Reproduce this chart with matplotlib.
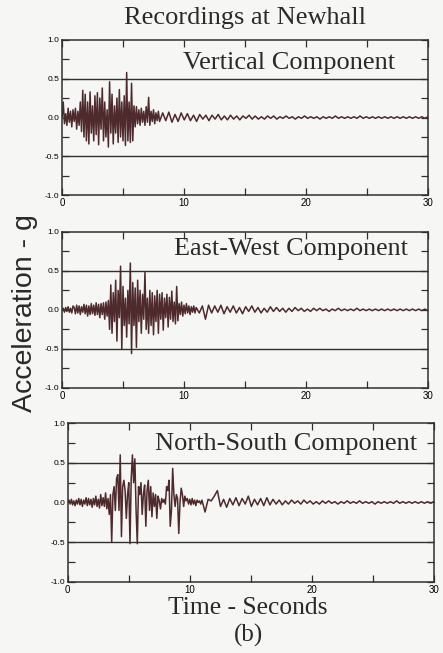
import matplotlib
matplotlib.use('Agg')
import matplotlib.pyplot as plt
import numpy as np

plt.rcParams['font.family'] = 'Liberation Serif'

# --- data (acceleration in g) ---
# strong-motion part sampled every 0.1 s, coda every 0.25 s
vert_strong = [
    0.0, 0.2, -0.08, 0.05, -0.1, 0.12, -0.06, 0.08, -0.12, 0.1,
    -0.05, 0.12, -0.15, 0.08, -0.1, 0.2, -0.18, 0.35, -0.25, 0.3,
    -0.3, 0.2, -0.34, 0.33, -0.2, 0.15, -0.3, 0.28, -0.22, 0.32,
    -0.35, 0.25, -0.15, 0.38, -0.3, 0.2, -0.25, 0.1, -0.38, 0.46,
    -0.2, 0.3, -0.34, 0.15, -0.2, 0.25, -0.32, 0.36, -0.25, 0.2,
    -0.3, 0.28, -0.36, 0.58, -0.3, 0.2, -0.32, 0.44, -0.3, 0.15,
    -0.12, 0.14, -0.08, 0.1, -0.1, 0.12, -0.06, 0.08, -0.1, 0.14,
    -0.06, 0.26, -0.1, 0.08, -0.05, 0.1, -0.08, 0.06, -0.04, 0.08,
]
vert_coda = [
    -0.05, 0.06, -0.04, 0.07, -0.06, 0.04, -0.05, 0.06, -0.03, 0.05,
    -0.04, 0.03, -0.05, 0.04, -0.02, 0.03, -0.04, 0.03, -0.02, 0.04,
    -0.03, 0.02, -0.03, 0.03, -0.02, 0.02, -0.03, 0.02, -0.01, 0.03,
    -0.02, 0.02, -0.02, 0.01, -0.02, 0.02, -0.01, 0.02, -0.02, 0.01,
    -0.01, 0.02, -0.01, 0.01, -0.02, 0.01, -0.01, 0.02, -0.01, 0.01,
    -0.01, 0.01, -0.02, 0.01, -0.01, 0.01, -0.01, 0.02, -0.01, 0.01,
    -0.01, 0.01, -0.01, 0.01, -0.01, 0.02, -0.01, 0.01, -0.01, 0.01,
    -0.01, 0.01, -0.01, 0.01, -0.01, 0.01, -0.01, 0.01, -0.01, 0.01,
    -0.01, 0.01, -0.01, 0.01, -0.01, 0.01, -0.01, 0.01,
]

ew_strong = [
    0.0, 0.02, -0.03, 0.03, -0.02, 0.04, -0.03, 0.02, -0.04, 0.05,
    0.03, -0.05, 0.06, -0.04, 0.05, -0.06, 0.04, -0.03, 0.07, -0.05,
    0.06, -0.08, 0.05, -0.06, 0.08, -0.05, 0.06, -0.07, 0.09, -0.06,
    0.07, -0.1, 0.08, -0.06, 0.09, -0.12, 0.1, -0.08, 0.12, -0.25,
    0.32, -0.3, 0.22, -0.15, 0.38, -0.4, 0.25, -0.1, 0.56, -0.5,
    0.3, -0.2, 0.15, -0.35, 0.25, -0.18, 0.6, -0.56, 0.35, -0.2,
    0.28, -0.48, 0.38, -0.15, 0.25, -0.3, 0.2, -0.12, 0.48, -0.25,
    0.15, -0.3, 0.25, -0.2, 0.22, -0.32, 0.18, -0.15, 0.25, -0.3,
    0.2, -0.12, 0.22, -0.26, 0.15, -0.1, 0.2, -0.22, 0.16, -0.12,
    0.24, -0.15, 0.1, -0.18, 0.3, -0.14, 0.08, -0.06, 0.1, -0.08,
    0.06, -0.05, 0.08, -0.04, 0.05, -0.06, 0.04, -0.03, 0.05, -0.04,
]
ew_coda = [
    0.03, -0.04, 0.05, -0.12, 0.06, -0.04, 0.05, -0.03, 0.06, -0.05,
    0.04, -0.03, 0.05, -0.04, 0.03, -0.05, 0.04, -0.02, 0.05, -0.03,
    0.03, -0.04, 0.02, -0.03, 0.04, -0.02, 0.03, -0.02, 0.02, -0.03,
    0.02, -0.02, 0.03, -0.01, 0.02, -0.02, 0.01, -0.02, 0.02, -0.01,
    0.02, -0.01, 0.01, -0.02, 0.01, -0.01, 0.02, -0.01, 0.01, -0.01,
    0.01, -0.01, 0.02, -0.01, 0.01, -0.01, 0.01, -0.01, 0.01, -0.01,
    0.01, -0.01, 0.01, -0.01, 0.01, -0.01, 0.01, -0.01, 0.01, -0.01,
    0.01, -0.01, 0.01, -0.01, 0.01, -0.01,
]

ns_strong = [
    0.0, 0.03, -0.02, 0.04, -0.03, 0.02, -0.04, 0.03, -0.02, 0.05,
    -0.03, 0.04, -0.05, 0.03, -0.02, 0.06, -0.04, 0.05, -0.03, 0.04,
    -0.06, 0.05, -0.03, 0.08, -0.05, 0.04, -0.07, 0.1, -0.04, 0.06,
    -0.05, 0.12, -0.08, 0.05, -0.15, 0.1, -0.5, 0.1, 0.2, -0.1,
    0.3, 0.35, -0.1, 0.6, -0.43, 0.2, 0.28, 0.15, -0.2, 0.1,
    0.25, -0.52, 0.3, 0.6, 0.25, 0.55, -0.1, -0.52, 0.2, 0.1,
    0.25, -0.15, 0.1, 0.22, -0.3, 0.15, 0.28, -0.1, 0.2, -0.18,
    0.12, -0.05, 0.1, -0.2, 0.08, 0.02, -0.08, 0.05, 0.0, 0.04,
    -0.02, 0.2, 0.15, 0.28, -0.3, -0.1, 0.43, 0.1, -0.05, 0.1,
    0.05, -0.39, 0.0, 0.18, 0.1, -0.05, 0.08, 0.02, 0.05, -0.02,
    0.04, -0.03, 0.05, -0.02, 0.03, -0.04, 0.03, 0.0, 0.02, -0.02,
]
ns_coda = [
    0.03, -0.12, 0.04, 0.02, 0.08, 0.15, -0.05, 0.04, -0.06, 0.05,
    -0.03, 0.06, -0.04, 0.05, -0.02, 0.08, -0.05, 0.04, -0.03, 0.05,
    -0.04, 0.06, -0.03, 0.04, -0.02, 0.03, -0.03, 0.02, -0.02, 0.03,
    -0.01, 0.02, -0.02, 0.03, -0.01, 0.02, -0.02, 0.01, -0.02, 0.02,
    -0.01, 0.02, -0.01, 0.01, -0.02, 0.01, -0.01, 0.02, -0.01, 0.01,
    -0.01, 0.02, -0.01, 0.01, -0.01, 0.01, -0.02, 0.01, -0.01, 0.01,
    -0.01, 0.01, -0.01, 0.02, -0.01, 0.01, -0.01, 0.01, -0.01, 0.01,
    -0.01, 0.01, -0.01, 0.01, -0.01, 0.01,
]

components = ['Vertical Component', 'East-West Component', 'North-South Component']
series = [(vert_strong, vert_coda), (ew_strong, ew_coda), (ns_strong, ns_coda)]
yticks = [-1.0, -0.5, 0.0, 0.5, 1.0]
ytick_labels = ['-1.0', '-0.5', '0.0', '0.5', '1.0']
xticks = [0, 10, 20, 30]


def make_time(strong, coda):
    t1 = np.arange(len(strong)) * 0.1
    t2 = t1[-1] + 0.1 + np.arange(len(coda)) * (30 - t1[-1] - 0.1) / (len(coda) - 1)
    return np.concatenate([t1, t2]), np.concatenate([strong, coda])


fig = plt.figure(figsize=(4.43, 6.53), dpi=100, facecolor='#f6f6f4')

# [left, bottom, width, height] and label placement for each panel
boxes = [[0.140, 0.701, 0.826, 0.238],
         [0.140, 0.406, 0.826, 0.239],
         [0.153, 0.109, 0.826, 0.243]]
label_pos = [(0.91, 0.85), (0.945, 0.89), (0.955, 0.87)]
label_size = [19, 18.8, 19]

line_col = '#4e2a2c'
frame_col = '#2f2f2f'

for box, name, (strong, coda), (lx, ly), fs in zip(boxes, components, series, label_pos, label_size):
    ax = fig.add_axes(box)
    ax.set_facecolor('#f6f6f4')
    t, a = make_time(strong, coda)
    ax.plot(t, a, color=line_col, lw=1.1)
    for g in (-0.5, 0.5):
        ax.axhline(g, color=frame_col, lw=1.0)
    ax.set_xlim(0, 30)
    ax.set_ylim(-1.0, 1.0)
    ax.set_yticks(yticks)
    ax.set_yticklabels(ytick_labels, fontsize=6, family='Liberation Sans')
    ax.set_yticks([-0.75, -0.25, 0.25, 0.75], minor=True)
    ax.set_xticks(xticks)
    ax.set_xticklabels([str(x) for x in xticks], fontsize=7, family='Liberation Sans')
    ax.set_xticks([5, 15, 25], minor=True)
    ax.tick_params(which='both', direction='in', top=True, right=True,
                   color=frame_col, length=5, width=0.9, pad=2)
    for s in ax.spines.values():
        s.set_color(frame_col)
        s.set_linewidth(1.1)
    ax.text(lx, ly, name, transform=ax.transAxes, ha='right', va='center',
            fontsize=fs, color='#2a2a2a')

fig.text(0.553, 0.972, 'Recordings at Newhall', ha='center', va='center',
         fontsize=19, color='#2a2a2a')
fig.text(0.056, 0.52, 'Acceleration - g', rotation=90, ha='center', va='center',
         fontsize=20.5, family='Liberation Sans', color='#2a2a2a')
fig.text(0.56, 0.069, 'Time - Seconds', ha='center', va='center',
         fontsize=18.4, color='#2a2a2a')
fig.text(0.56, 0.027, '(b)', ha='center', va='center',
         fontsize=18, color='#2a2a2a')

fig.savefig('out.png', dpi=100, facecolor=fig.get_facecolor())
